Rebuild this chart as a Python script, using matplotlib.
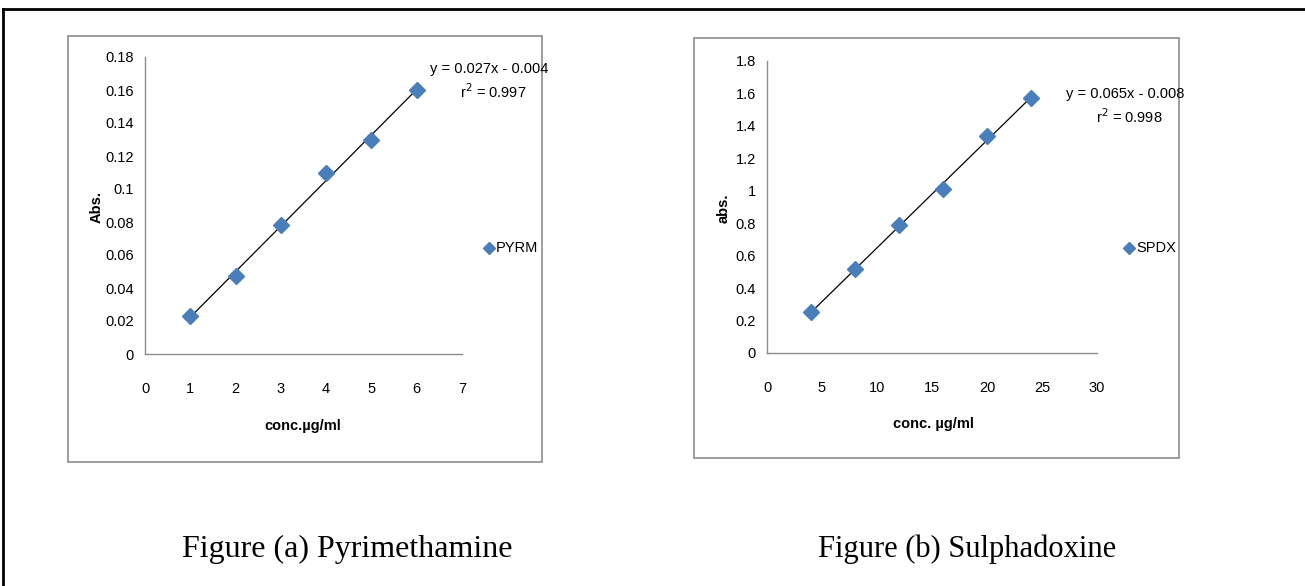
import matplotlib
matplotlib.use("Agg")
import matplotlib.pyplot as plt
import numpy as np
from matplotlib.patches import Rectangle
from matplotlib.lines import Line2D

# Pyrimethamine calibration
pyrm_conc = [1, 2, 3, 4, 5, 6]
pyrm_abs = [0.023, 0.047, 0.078, 0.11, 0.13, 0.16]

# Sulphadoxine calibration
spdx_conc = [4, 8, 12, 16, 20, 24]
spdx_abs = [0.25, 0.52, 0.79, 1.01, 1.34, 1.57]

W, H = 1305, 586
plt.rcParams['font.family'] = ['Liberation Sans', 'DejaVu Sans']

fig = plt.figure(figsize=(W / 100, H / 100), dpi=100)


def px_axes(left, top, right, bottom):
    return fig.add_axes([left / W, 1 - bottom / H, (right - left) / W, (bottom - top) / H])


def frame(left, top, right, bottom, color, lw):
    fig.patches.append(Rectangle((left / W, 1 - bottom / H), (right - left) / W, (bottom - top) / H,
                                 transform=fig.transFigure, fill=False, edgecolor=color, linewidth=lw))


def ftext(x, y, s, **kw):
    fig.text(x / W, 1 - y / H, s, **kw)


# outer border (right and bottom run off the page)
fig.add_artist(Line2D([3 / W, 3 / W], [0, 1 - 9 / H], transform=fig.transFigure, color='black', lw=2))
fig.add_artist(Line2D([3 / W, 1], [1 - 9 / H, 1 - 9 / H], transform=fig.transFigure, color='black', lw=2))

frame(68, 36, 542, 462, '#8c8c8c', 1.2)
frame(694, 38, 1179, 458, '#8c8c8c', 1.2)

TS = 10.5


def panel(ax, x, y, xmax, xstep, ymax, ystep, yfmt, name, eq, r2, eq_xy, r2_xy, leg_xy):
    ax.plot(x, y, 'D', color='#4a7ebb', markersize=8, zorder=3)
    k, b = np.polyfit(x, y, 1)
    xs = np.array([x[0], x[-1]])
    ax.plot(xs, k * xs + b, color='black', lw=0.9, zorder=2)
    ax.set_xlim(0, xmax)
    ax.set_ylim(0, ymax)
    ax.set_xticks(np.arange(0, xmax + xstep / 2, xstep))
    yt = np.arange(0, ymax + ystep / 2, ystep)
    ax.set_yticks(yt)
    ax.set_yticklabels([yfmt(v) for v in yt])
    for s in ['top', 'right']:
        ax.spines[s].set_visible(False)
    for s in ['left', 'bottom']:
        ax.spines[s].set_color('#8c8c8c')
        ax.spines[s].set_linewidth(1.0)
    ax.tick_params(length=0, labelsize=TS)
    ax.tick_params(axis='x', pad=20)
    ax.tick_params(axis='y', pad=8)
    ax.patch.set_alpha(0)
    ftext(eq_xy[0], eq_xy[1], eq, ha='center', va='center', fontsize=TS)
    ftext(r2_xy[0], r2_xy[1], r2, ha='center', va='center', fontsize=TS)
    fig.add_artist(Line2D([leg_xy[0] / W], [1 - leg_xy[1] / H], transform=fig.transFigure,
                          marker='D', color='#4a7ebb', markersize=6.5, linestyle='none'))
    ftext(leg_xy[0] + 7, leg_xy[1], name, ha='left', va='center', fontsize=TS)


def fmt_a(v):
    s = ('%.2f' % v).rstrip('0').rstrip('.')
    return s if s else '0'


def fmt_b(v):
    s = ('%.1f' % v).rstrip('0').rstrip('.')
    return s if s else '0'


ax1 = px_axes(145, 57, 462, 354)
panel(ax1, pyrm_conc, pyrm_abs, 7, 1, 0.18, 0.02, fmt_a, 'PYRM',
      'y = 0.027x - 0.004', 'r$^2$ = 0.997', (489, 69), (493, 92), (489, 248))
ftext(303, 426, 'conc.µg/ml', ha='center', va='center', fontsize=TS, fontweight='bold')
ftext(97, 207, 'Abs.', ha='center', va='center', rotation=90, fontsize=TS, fontweight='bold')

ax2 = px_axes(767, 61, 1097, 353)
panel(ax2, spdx_conc, spdx_abs, 30, 5, 1.8, 0.2, fmt_b, 'SPDX',
      'y = 0.065x - 0.008', 'r$^2$ = 0.998', (1125, 94), (1129, 117), (1129, 248))
ftext(933, 424, 'conc. µg/ml', ha='center', va='center', fontsize=TS, fontweight='bold')
ftext(724, 208, 'abs.', ha='center', va='center', rotation=90, fontsize=TS, fontweight='bold')

serif = ['Liberation Serif', 'DejaVu Serif']
ftext(347, 549, 'Figure (a) Pyrimethamine', ha='center', va='center', fontsize=23, family=serif)
ftext(967, 549, 'Figure (b) Sulphadoxine', ha='center', va='center', fontsize=22, family=serif)

fig.savefig('out.png', dpi=100)
